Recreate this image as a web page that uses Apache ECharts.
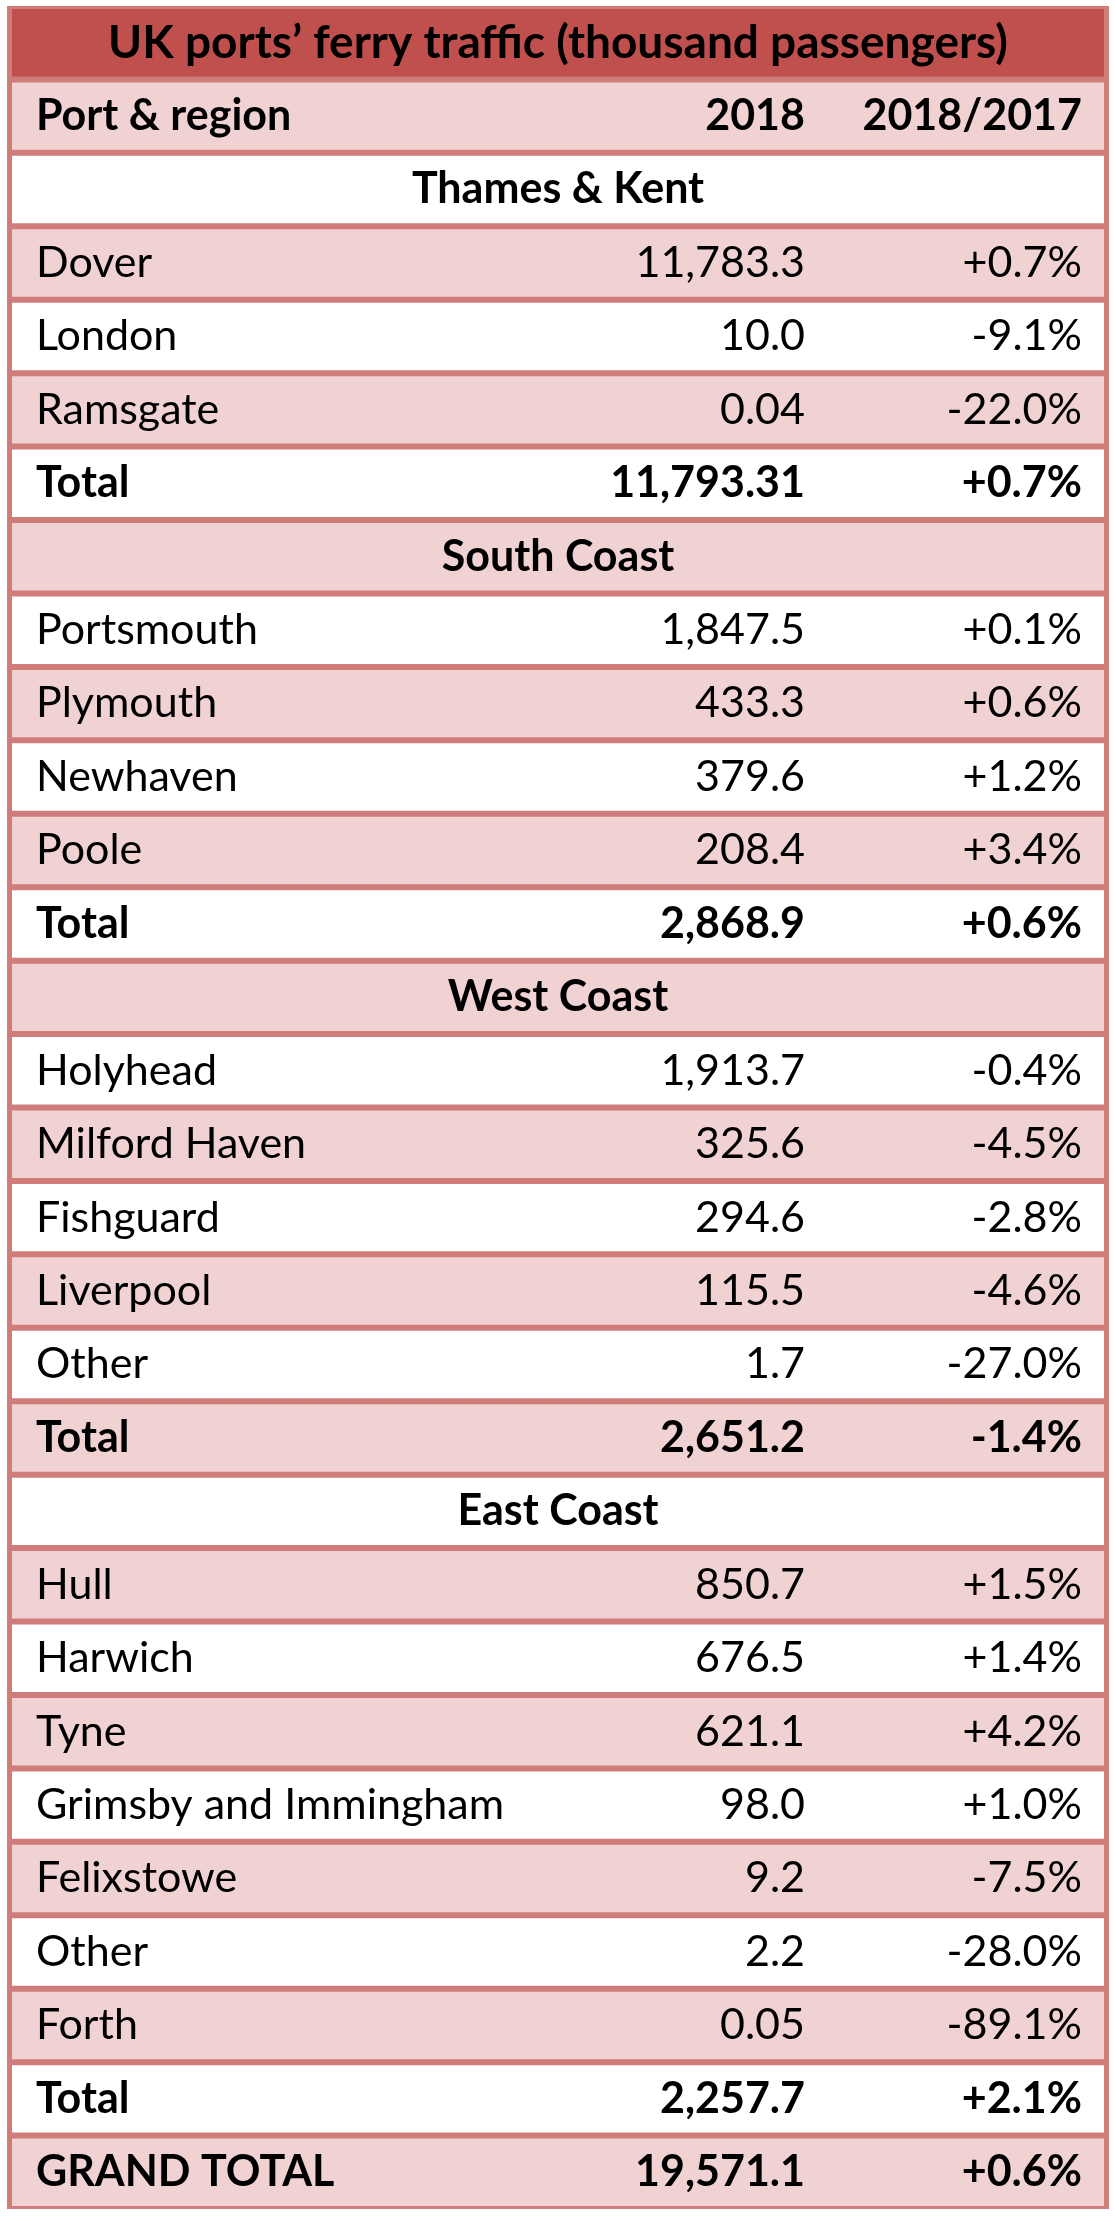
<!DOCTYPE html>
<html><head><meta charset="utf-8">
<script src="https://cdn.jsdelivr.net/npm/echarts@6/dist/echarts.min.js"></script>
<style>html,body{margin:0;padding:0;background:#fff}#c{width:1116px;height:2222px}</style>
</head><body><div id="c"></div>
<script>
var title = 'UK ports\u2019 ferry traffic (thousand passengers)';
var ports = ['Port & region','Thames & Kent','Dover','London','Ramsgate','Total','South Coast','Portsmouth','Plymouth','Newhaven','Poole','Total','West Coast','Holyhead','Milford Haven','Fishguard','Liverpool','Other','Total','East Coast','Hull','Harwich','Tyne','Grimsby and Immingham','Felixstowe','Other','Forth','Total','GRAND TOTAL'];
var values2018 = ['2018','','11,783.3','10.0','0.04','11,793.31','','1,847.5','433.3','379.6','208.4','2,868.9','','1,913.7','325.6','294.6','115.5','1.7','2,651.2','','850.7','676.5','621.1','98.0','9.2','2.2','0.05','2,257.7','19,571.1'];
var changes = ['2018/2017','','+0.7%','-9.1%','-22.0%','+0.7%','','+0.1%','+0.6%','+1.2%','+3.4%','+0.6%','','-0.4%','-4.5%','-2.8%','-4.6%','-27.0%','-1.4%','','+1.5%','+1.4%','+4.2%','+1.0%','-7.5%','-28.0%','-89.1%','+2.1%','+0.6%'];
var kinds = ['header','section','row','row','row','total','section','row','row','row','row','total','section','row','row','row','row','row','total','section','row','row','row','row','row','row','row','total','total'];

var rows = ['title'].concat(ports.map(function(p, i){ return 'r' + i; }));
var data = rows.map(function(r, i){ return [0, i]; });

var chart = echarts.init(document.getElementById('c'));
var font = 'Lato, "Open Sans", sans-serif';
chart.setOption({
  animation: false,
  grid: {left: 7, right: 7, top: 6, bottom: 13, show: true, backgroundColor: '#CF7C7A', borderWidth: 0},
  xAxis: {type: 'value', min: 0, max: 1, show: false},
  yAxis: {type: 'category', data: rows, inverse: true, show: false},
  series: [{
    type: 'custom',
    data: data,
    renderItem: function(params, api){
      var i = api.value(1);
      var p = api.coord([0, i]);
      var h = api.size([0, 1])[1];
      var x0 = 12, x1 = 1104, top = p[1] - h / 2 + 3, rh = h - 6, cy = p[1];
      var fill = i === 0 ? '#C0504D' : (i % 2 === 1 ? '#F0D2D2' : '#FFFFFF');
      var children = [{type: 'rect', shape: {x: x0, y: top, width: x1 - x0, height: rh}, style: {fill: fill}}];
      if (i === 0) {
        children.push({type: 'text', style: {text: title, x: (x0 + x1) / 2, y: cy, align: 'center', verticalAlign: 'middle', font: 'bold 46px ' + font, fill: '#000'}});
      } else {
        var k = kinds[i - 1];
        var bold = k !== 'row';
        var f = (bold ? 'bold ' : '') + '43px ' + font;
        if (k === 'section') {
          children.push({type: 'text', style: {text: ports[i - 1], x: (x0 + x1) / 2, y: cy, align: 'center', verticalAlign: 'middle', font: f, fill: '#000'}});
        } else {
          children.push({type: 'text', style: {text: ports[i - 1], x: 36, y: cy, align: 'left', verticalAlign: 'middle', font: f, fill: '#000'}});
          children.push({type: 'text', style: {text: values2018[i - 1], x: 805, y: cy, align: 'right', verticalAlign: 'middle', font: f, fill: '#000'}});
          children.push({type: 'text', style: {text: changes[i - 1], x: 1082, y: cy, align: 'right', verticalAlign: 'middle', font: f, fill: '#000'}});
        }
      }
      return {type: 'group', children: children};
    }
  }]
});
</script></body></html>
